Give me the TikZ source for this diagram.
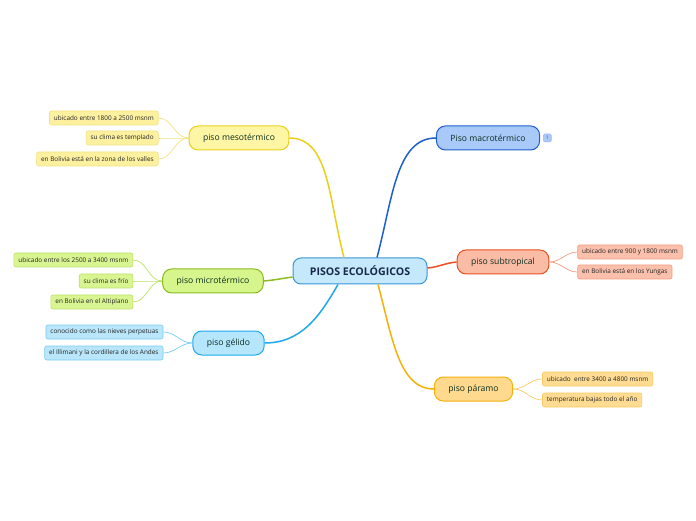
\documentclass[tikz,border=0pt]{standalone}
\usepackage{fontspec}
\setmainfont{Open Sans}
\usepackage{tikz}
\usetikzlibrary{positioning}

\definecolor{topicfill}{HTML}{C5E9FB}
\definecolor{topicline}{HTML}{3A96D8}
\definecolor{topictext}{HTML}{17284A}
\definecolor{branchtext}{HTML}{0B2E1F}
\definecolor{leaftext}{HTML}{222222}
\definecolor{mesofill}{HTML}{FFF6A5}
\definecolor{mesoline}{HTML}{EACF1A}
\definecolor{mesoleaf}{HTML}{FDF1A0}
\definecolor{mesotwig}{HTML}{F2E282}
\definecolor{microfill}{HTML}{D6F58C}
\definecolor{microline}{HTML}{8CBC1E}
\definecolor{microleaf}{HTML}{D9F592}
\definecolor{microtwig}{HTML}{BCE068}
\definecolor{gelfill}{HTML}{B5E6FB}
\definecolor{gelline}{HTML}{1EA8EF}
\definecolor{gelleaf}{HTML}{B9E6FB}
\definecolor{geltwig}{HTML}{78CCF2}
\definecolor{macrofill}{HTML}{A9C9F8}
\definecolor{macroline}{HTML}{1E5FCF}
\definecolor{subfill}{HTML}{FBBCA6}
\definecolor{subline}{HTML}{E9501F}
\definecolor{subleaf}{HTML}{FBC0AC}
\definecolor{subtwig}{HTML}{F29C7E}
\definecolor{parfill}{HTML}{FFD98E}
\definecolor{parline}{HTML}{F5B00A}
\definecolor{parleaf}{HTML}{FFDC92}
\definecolor{partwig}{HTML}{F8CA66}

\begin{document}
\begin{tikzpicture}[
  x=1pt, y=1pt,
  node distance=29pt,
  topic/.style={rectangle, draw=topicline, fill=topicfill, rounded corners=8pt, line width=1pt, minimum width=134pt, minimum height=26pt, text=topictext, font=\fontsize{10.6}{12}\selectfont\bfseries},
  branch/.style={rectangle, rounded corners=9pt, line width=1pt, minimum height=24pt, inner xsep=14pt, text=branchtext, font=\fontsize{8.6}{10}\selectfont},
  leaf/.style={rectangle, rounded corners=2pt, line width=0.6pt, minimum height=14pt, inner xsep=4.5pt, inner ysep=0pt, text=leaftext, font=\fontsize{6.4}{7}\selectfont},
  trunk/.style={line width=1.5pt},
  twig/.style={line width=0.7pt}
]
\useasboundingbox (0,0) rectangle (696,520);

% Central topic
\node[topic] (topic) at (360,249) {PISOS ECOLÓGICOS};

% Main branches
\node[branch, fill=mesofill, draw=mesoline] (meso) at (239,382) {piso mesotérmico};
\node[branch, fill=microfill, draw=microline] (micro) at (213,239) {piso microtérmico};
\node[branch, fill=gelfill, draw=gelline] (gelido) at (228.5,177) {piso gélido};
\node[branch, fill=macrofill, draw=macroline] (macro) at (488,382) {Piso macrotérmico};
\node[branch, fill=subfill, draw=subline] (subtrop) at (503,258) {piso subtropical};
\node[branch, fill=parfill, draw=parline] (paramo) at (473.5,131) {piso páramo};

% Badge
\node[rectangle, rounded corners=1.5pt, fill=macrofill, draw=macroline!45, line width=0.5pt, minimum size=8pt, inner sep=0pt, text=macroline, font=\fontsize{5}{5}\selectfont, right=3pt of macro] (badge) {1};

% Leaves: mesotermico
\node[leaf, fill=mesoleaf, draw=mesotwig, left=30pt of meso, yshift=20pt] (meso1) {ubicado entre 1800 a 2500 msnm};
\node[leaf, fill=mesoleaf, draw=mesotwig, left=30pt of meso] (meso2) {su clima es templado};
\node[leaf, fill=mesoleaf, draw=mesotwig, left=30pt of meso, yshift=-21pt] (meso3) {en Bolivia está en la zona de los valles};

% Leaves: microtermico
\node[leaf, fill=microleaf, draw=microtwig, left=29pt of micro, yshift=21pt] (micro1) {ubicado entre los 2500 a 3400 msnm};
\node[leaf, fill=microleaf, draw=microtwig, left=29pt of micro] (micro2) {su clima es frío};
\node[leaf, fill=microleaf, draw=microtwig, left=29pt of micro, yshift=-21pt] (micro3) {en Bolivia en el Altiplano};

% Leaves: gelido
\node[leaf, fill=gelleaf, draw=geltwig, left=29pt of gelido, yshift=11pt] (gel1) {conocido como las nieves perpetuas};
\node[leaf, fill=gelleaf, draw=geltwig, left=29pt of gelido, yshift=-10pt] (gel2) {el Illimani y la cordillera de los Andes};

% Leaves: subtropical
\node[leaf, fill=subleaf, draw=subtwig, right=28pt of subtrop, yshift=10pt] (sub1) {ubicado entre 900 y 1800 msnm};
\node[leaf, fill=subleaf, draw=subtwig, right=28pt of subtrop, yshift=-10pt] (sub2) {en Bolivia está en los Yungas};

% Leaves: paramo
\node[leaf, fill=parleaf, draw=partwig, right=29pt of paramo, yshift=10pt] (par1) {ubicado \ entre 3400 a 4800 msnm};
\node[leaf, fill=parleaf, draw=partwig, right=29pt of paramo, yshift=-11pt] (par2) {temperatura bajas todo el año};

% Trunks
\draw[trunk, mesoline] ([xshift=-16pt]topic.north) .. controls +(105:60) and +(40,0) .. (meso.east);
\draw[trunk, macroline] ([xshift=17pt]topic.north) .. controls +(75:60) and +(-40,0) .. (macro.west);
\draw[trunk, microline] ([yshift=-6pt]topic.west) to[out=188, in=5] (micro.east);
\draw[trunk, gelline] ([xshift=-22pt]topic.south) to[out=240, in=0] (gelido.east);
\draw[trunk, subline] ([yshift=3pt]topic.east) to[out=5, in=185] (subtrop.west);
\draw[trunk, parline] ([xshift=18pt]topic.south) .. controls +(285:55) and +(-35,0) .. (paramo.west);

% Twigs
\foreach \leaf in {meso1, meso2, meso3}
  \draw[twig, mesotwig] (meso.west) to[out=180, in=0] (\leaf.east);
\foreach \leaf in {micro1, micro2, micro3}
  \draw[twig, microtwig] (micro.west) to[out=180, in=0] (\leaf.east);
\foreach \leaf in {gel1, gel2}
  \draw[twig, geltwig] (gelido.west) to[out=180, in=0] (\leaf.east);
\foreach \leaf in {sub1, sub2}
  \draw[twig, subtwig] (subtrop.east) to[out=0, in=180] (\leaf.west);
\foreach \leaf in {par1, par2}
  \draw[twig, partwig] (paramo.east) to[out=0, in=180] (\leaf.west);

\end{tikzpicture}
\end{document}
